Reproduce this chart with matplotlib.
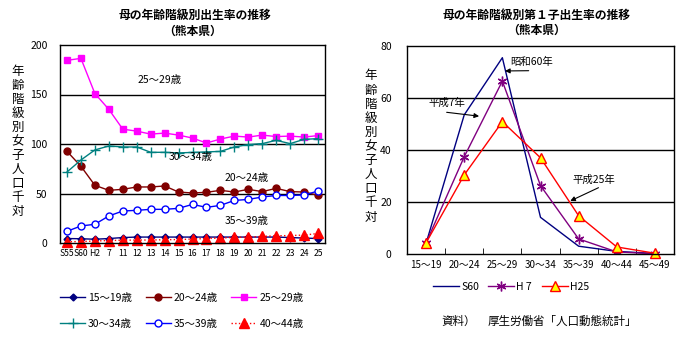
import matplotlib
matplotlib.use("Agg")
import matplotlib.pyplot as plt
from matplotlib.ticker import FixedLocator

plt.rcParams['font.family'] = ['Noto Sans CJK JP', 'DejaVu Sans']

# ---- Left chart: age-specific fertility rate (Kumamoto) ----
years = ["S55", "S60", "H2", "7", "11", "12", "13", "14", "15", "16",
         "17", "18", "19", "20", "21", "22", "23", "24", "25"]

age_15_19 = [4.5, 4.3, 3.8, 4.5, 5.5, 6.0, 6.0, 6.0, 6.0, 6.0,
             6.0, 6.0, 6.0, 6.0, 6.0, 6.0, 5.5, 5.0, 4.5]
age_20_24 = [92.6, 77.5, 58.3, 53.2, 54.2, 56.6, 56.6, 57.6, 51.5, 50.5,
             51.2, 53.2, 51.5, 54.2, 51.9, 55.2, 51.9, 51.5, 48.2]
age_25_29 = [184.5, 186.5, 151.0, 135.0, 115.0, 113.0, 110.0, 111.0, 109.0, 106.0,
             101.0, 105.0, 108.0, 107.0, 109.0, 107.5, 108.0, 107.0, 108.5]
age_30_34 = [71.7, 83.8, 94.0, 98.0, 97.0, 97.0, 91.6, 91.6, 91.0, 91.5,
             92.0, 92.5, 97.0, 99.4, 100.4, 103.7, 100.4, 104.7, 105.4]
age_35_39 = [11.8, 17.2, 18.9, 27.3, 32.3, 33.0, 34.0, 34.0, 35.0, 39.0,
             36.0, 38.0, 43.0, 44.0, 46.5, 48.0, 48.0, 48.5, 52.5]
age_40_44 = [1.2, 1.5, 2.0, 2.5, 2.8, 3.0, 3.0, 3.3, 3.5, 4.0,
             4.5, 5.0, 5.7, 6.0, 6.6, 7.3, 7.5, 8.0, 9.6]

# ---- Right chart: first-birth rate by mother's age (Kumamoto) ----
age_groups = ["15～19", "20～24", "25～29", "30～34", "35～39", "40～44", "45～49"]
first_s60 = [4.1, 53.5, 75.5, 14.1, 3.0, 1.0, 0.2]
first_h7 = [4.3, 37.4, 66.5, 26.3, 5.8, 0.8, 0.1]
first_h25 = [4.3, 30.4, 50.9, 37.0, 14.7, 2.7, 0.3]

W, H = 697, 338
fig = plt.figure(figsize=(W / 100, H / 100), dpi=100)


def px_axes(x0, y0, x1, y1):
    return fig.add_axes([x0 / W, 1 - y1 / H, (x1 - x0) / W, (y1 - y0) / H])


def vertical_label(x, y_top, y_bottom, text):
    n = len(text)
    step = (y_bottom - y_top) / (n - 1)
    for i, ch in enumerate(text):
        fig.text(x / W, 1 - (y_top + i * step) / H, ch, ha='center', va='center',
                 fontsize=9)


TICK_FS = 7.5

# Left axes
ax1 = px_axes(60, 45, 325, 243)
xs = list(range(len(years)))
series = [
    (age_15_19, "15～19歳", dict(color='#000080', marker='D', ms=3.5, mfc='#000080', mec='#000080', ls='-')),
    (age_20_24, "20～24歳", dict(color='#800000', marker='o', ms=5, mfc='#800000', mec='#800000', ls='-')),
    (age_25_29, "25～29歳", dict(color='#FF00FF', marker='s', ms=5, mfc='#FF00FF', mec='#FF00FF', ls='-')),
    (age_30_34, "30～34歳", dict(color='#008080', marker='+', ms=7, mew=1, ls='-')),
    (age_35_39, "35～39歳", dict(color='#0000FF', marker='o', ms=5, mfc='white', mec='#0000FF', ls='-')),
    (age_40_44, "40～44歳", dict(color='#FF0000', marker='^', ms=6.5, mfc='#FF0000', mec='#FF0000', ls=':')),
]
handles = {}
for vals, lab, st in series:
    h, = ax1.plot(xs, vals, lw=1, label=lab, clip_on=False, **st)
    handles[lab] = h

ax1.set_xlim(-0.5, len(years) - 0.5)
ax1.set_ylim(0, 200)
ax1.set_xticks(xs)
ax1.set_xticklabels(years, fontsize=6.2)
ax1.set_yticks([0, 50, 100, 150, 200])
ax1.set_yticklabels(["0", "50", "100", "150", "200"], fontsize=TICK_FS)
ax1.tick_params(axis='both', length=0, pad=9)
ax1.tick_params(axis='x', pad=4)
for yv in (50, 100, 150):
    ax1.axhline(yv, color='black', lw=1, zorder=0.5)
for sp in ax1.spines.values():
    sp.set_color('black')
    sp.set_linewidth(1)

ax1.text(6.67, 165, "25～29歳", ha='center', va='center', fontsize=7.5)
ax1.text(8.9, 86.6, "30～34歳", ha='center', va='center', fontsize=7.5)
ax1.text(12.9, 66, "20～24歳", ha='center', va='center', fontsize=7.5)
ax1.text(12.85, 22, "35～39歳", ha='center', va='center', fontsize=7.5)

fig.text(195 / W, 1 - 15 / H, "母の年齢階級別出生率の推移", ha='center', va='center',
         fontsize=8.5, fontweight='bold')
fig.text(193 / W, 1 - 31 / H, "（熊本県）", ha='center', va='center',
         fontsize=8.5, fontweight='bold')
vertical_label(18, 72, 211, "年齢階級別女子人口千対")

order = ["15～19歳", "30～34歳", "20～24歳", "35～39歳", "25～29歳", "40～44歳"]
leg1 = ax1.legend([handles[k] for k in order], order, ncol=3, frameon=False,
                  loc='upper left', bbox_to_anchor=(60 / W, 1 - 293 / H),
                  bbox_transform=fig.transFigure, fontsize=7.5,
                  handlelength=2.4, handletextpad=0.3, columnspacing=1.3,
                  labelspacing=1.5, borderaxespad=0, borderpad=0)

# Right axes
ax2 = px_axes(407, 46, 674, 254)
xr = list(range(len(age_groups)))
h1, = ax2.plot(xr, first_s60, color='#000080', lw=1, label="S60")
h2, = ax2.plot(xr, first_h7, color='#800080', lw=1, marker=(6, 2, 0), ms=7,
               mew=1, mec='#800080', label="H 7")
h3, = ax2.plot(xr, first_h25, color='#FF0000', lw=1, marker='^', ms=7.5,
               mfc='#FFFF00', mec='#FF0000', mew=1, label="H25", clip_on=False)
ax2.set_xlim(-0.5, len(age_groups) - 0.5)
ax2.set_ylim(0, 80)
ax2.set_xticks(xr)
ax2.set_xticklabels(age_groups, fontsize=7)
ax2.xaxis.set_minor_locator(FixedLocator([i + 0.5 for i in range(len(age_groups) - 1)]))
ax2.tick_params(axis='x', which='major', length=0, pad=4)
ax2.tick_params(axis='x', which='minor', length=4, direction='in', color='black')
ax2.set_yticks([0, 20, 40, 60, 80])
ax2.set_yticklabels(["0", "20", "40", "60", "80"], fontsize=TICK_FS)
ax2.tick_params(axis='y', length=0, pad=11)
for yv in (20, 40, 60):
    ax2.axhline(yv, color='black', lw=1, zorder=0.5)
for sp in ax2.spines.values():
    sp.set_color('black')
    sp.set_linewidth(1)

arrow = dict(arrowstyle='-|>', color='black', lw=0.8, mutation_scale=7,
             shrinkA=0, shrinkB=0)
ax2.text(2.2, 73.8, "昭和60年", ha='left', va='center', fontsize=7.5)
ax2.annotate("", xy=(2.07, 70.4), xytext=(2.69, 70.5), arrowprops=arrow)
ax2.text(0.05, 58, "平成7年", ha='left', va='center', fontsize=7.5)
ax2.annotate("", xy=(1.39, 53.0), xytext=(0.54, 54.5), arrowprops=arrow)
ax2.text(3.85, 28.5, "平成25年", ha='left', va='center', fontsize=7.5)
ax2.annotate("", xy=(3.78, 20.4), xytext=(4.52, 25.5), arrowprops=arrow)

fig.text(537 / W, 1 - 15 / H, "母の年齢階級別第１子出生率の推移", ha='center', va='center',
         fontsize=8.5, fontweight='bold')
fig.text(537 / W, 1 - 30 / H, "（熊本県）", ha='center', va='center',
         fontsize=8.5, fontweight='bold')
vertical_label(371, 76, 217, "年齢階級別女子人口千対")

ax2.legend([h1, h2, h3], ["S60", "H 7", "H25"], ncol=3, frameon=False,
           loc='center left', bbox_to_anchor=(433 / W, 1 - 287 / H),
           bbox_transform=fig.transFigure, fontsize=7.5,
           handlelength=2.5, handletextpad=0.2, columnspacing=0.9,
           borderaxespad=0, borderpad=0)

fig.text(441 / W, 1 - 321 / H, "資料）", ha='left', va='center', fontsize=8.3)
fig.text(488 / W, 1 - 321 / H, "厚生労働省「人口動態統計」", ha='left', va='center', fontsize=8.3)

fig.savefig("out.png", dpi=100)
